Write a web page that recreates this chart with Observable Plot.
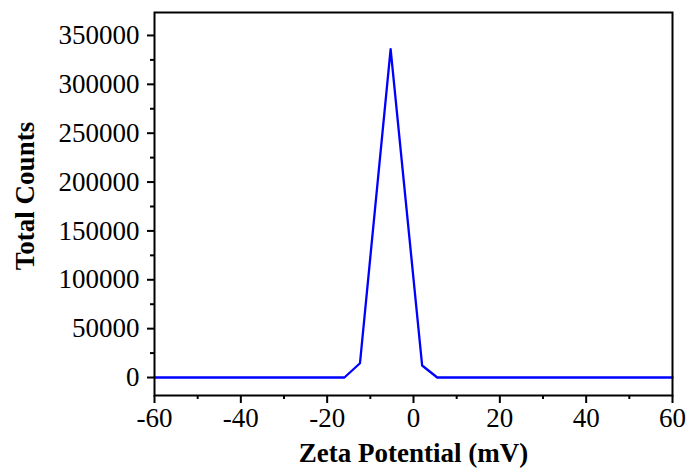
<!DOCTYPE html>
<html>
<head>
<meta charset="utf-8">
<script src="https://cdn.jsdelivr.net/npm/d3@7"></script>
<script src="https://cdn.jsdelivr.net/npm/@observablehq/plot@0.6"></script>
<style>
  html, body { margin: 0; padding: 0; background: #fff; }
  #chart svg { display: block; }
</style>
</head>
<body>
<div id="chart"></div>
<script>
// Data
const zeta = [-60, -16, -12.4, -5.3, 2.0, 5.5, 60];
const counts = [0, 0, 14600, 336000, 12300, 0, 0];

const xMajorTicks = [-60, -40, -20, 0, 20, 40, 60];
const xMinorTicks = [-50, -30, -10, 10, 30, 50];
const yMajorTicks = [0, 50000, 100000, 150000, 200000, 250000, 300000, 350000];
const yMinorTicks = [25000, 75000, 125000, 175000, 225000, 275000, 325000];

const data = zeta.map((z, i) => ({zeta: z, counts: counts[i]}));

const font = "'Liberation Serif', 'Times New Roman', serif";

const chart = Plot.plot({
  width: 689,
  height: 474,
  marginLeft: 154,
  marginRight: 17,
  marginTop: 12,
  marginBottom: 79,
  style: {fontFamily: font, fontSize: "27px", color: "#000", background: "#fff"},
  x: {domain: [-60, 60]},
  y: {domain: [-18400, 373500]},
  marks: [
    Plot.line(data, {x: "zeta", y: "counts", stroke: "#0000ff", strokeWidth: 2.3}),
    Plot.frame({stroke: "#000", strokeWidth: 2}),
    Plot.axisX({ticks: xMajorTicks, tickSize: 8, tickPadding: 4, tickFormat: d => String(d).replace("−", "-"), strokeWidth: 2, label: null, fontSize: 27}),
    Plot.axisX({ticks: xMinorTicks, tickSize: 4, tickFormat: null, text: null, strokeWidth: 2, label: null}),
    Plot.axisY({ticks: yMajorTicks, tickSize: 7, tickPadding: 8, tickFormat: d => String(d), strokeWidth: 2, label: null, fontSize: 27}),
    Plot.axisY({ticks: yMinorTicks, tickSize: 4, text: null, strokeWidth: 2, label: null}),
    Plot.text(["Zeta Potential (mV)"], {frameAnchor: "bottom", dy: 66, fontWeight: "bold", fontSize: 27, fill: "#000"}),
    Plot.text(["Total Counts"], {frameAnchor: "left", textAnchor: "middle", dx: -129, dy: -8, rotate: -90, fontWeight: "bold", fontSize: 27, fill: "#000"})
  ]
});

document.getElementById("chart").appendChild(chart);
</script>
</body>
</html>
